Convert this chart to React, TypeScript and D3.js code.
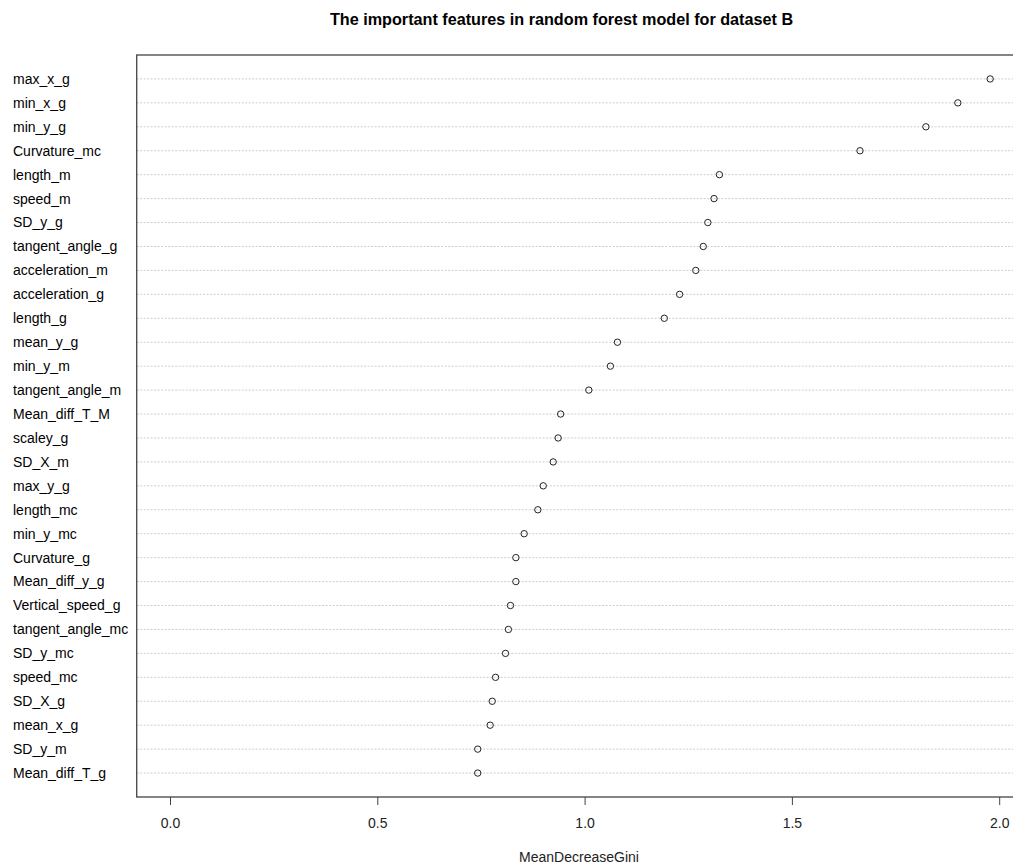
import React from "react";
import * as d3 from "d3";

const features: string[] = [
  "max_x_g", "min_x_g", "min_y_g", "Curvature_mc", "length_m", "speed_m", "SD_y_g",
  "tangent_angle_g", "acceleration_m", "acceleration_g", "length_g", "mean_y_g", "min_y_m",
  "tangent_angle_m", "Mean_diff_T_M", "scaley_g", "SD_X_m", "max_y_g", "length_mc", "min_y_mc",
  "Curvature_g", "Mean_diff_y_g", "Vertical_speed_g", "tangent_angle_mc", "SD_y_mc", "speed_mc",
  "SD_X_g", "mean_x_g", "SD_y_m", "Mean_diff_T_g",
];
const meanDecreaseGini: number[] = [
  1.977, 1.899, 1.822, 1.663, 1.324, 1.311, 1.296,
  1.285, 1.267, 1.228, 1.191, 1.078, 1.061,
  1.009, 0.941, 0.935, 0.923, 0.899, 0.886, 0.853,
  0.833, 0.833, 0.820, 0.815, 0.808, 0.784,
  0.776, 0.771, 0.741, 0.741,
];
const xTicks: number[] = [0, 0.5, 1.0, 1.5, 2.0];
const title = "The important features in random forest model for dataset B";
const xLabel = "MeanDecreaseGini";

const W = 1013;
const H = 867;
const FONT = "'Liberation Sans', Arial, Helvetica, sans-serif";

export default function App() {
  const n = features.length;
  const x = d3.scaleLinear().domain([0, 2]).range([170.5, 999.7]);
  const y = d3.scaleLinear().domain([0, n + 1]).range([797, 55]);
  const left = x(-0.0815);
  const right = x(2.06);
  const top = y(n + 1);
  const bottom = y(0);
  const rowY = (i: number) => y(n - i);

  return (
    <svg
      width={W}
      height={H}
      style={{ position: "absolute", left: 0, top: 0, background: "#fff" }}
      fontFamily={FONT}
    >
      <rect x={0} y={0} width={W} height={H} fill="#fff" />
      <text x={561.5} y={24.5} textAnchor="middle" fontSize={16.2} fontWeight="bold" fill="#000">
        {title}
      </text>
      {features.map((f, i) => (
        <g key={f}>
          <line
            x1={left}
            x2={right}
            y1={rowY(i)}
            y2={rowY(i)}
            stroke="#cdcdcd"
            strokeWidth={1}
            strokeDasharray="2,1.5"
          />
          <text x={13} y={rowY(i)} dy="0.35em" fontSize={14} fill="#000">
            {f}
          </text>
        </g>
      ))}
      {meanDecreaseGini.map((v, i) => (
        <circle
          key={features[i]}
          cx={x(v)}
          cy={rowY(i)}
          r={3.2}
          fill="none"
          stroke="#222"
          strokeWidth={1}
        />
      ))}
      <rect x={left} y={top} width={right - left} height={bottom - top} fill="none" stroke="#444" strokeWidth={1.3} />
      {xTicks.map((t) => (
        <g key={t}>
          <line x1={x(t)} x2={x(t)} y1={bottom} y2={bottom + 8} stroke="#444" strokeWidth={1} />
          <text x={x(t)} y={828} textAnchor="middle" fontSize={14} fill="#222">
            {d3.format(".1f")(t)}
          </text>
        </g>
      ))}
      <text x={579} y={862} textAnchor="middle" fontSize={14} fill="#222">
        {xLabel}
      </text>
    </svg>
  );
}
